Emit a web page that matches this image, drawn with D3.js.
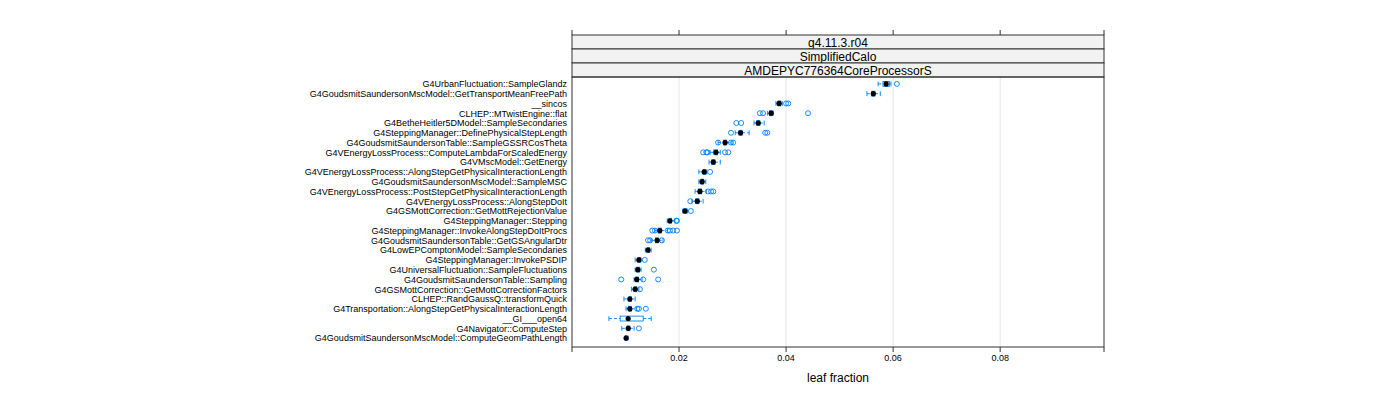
<!DOCTYPE html><html><head><meta charset="utf-8"><script src="https://cdn.jsdelivr.net/npm/d3@7"></script>
<style>body{margin:0;background:#fff}text{font-family:"Liberation Sans",Arial,sans-serif}</style></head><body><svg id="c" width="1400" height="400"></svg><script>
const categories=["G4UrbanFluctuation::SampleGlandz","G4GoudsmitSaundersonMscModel::GetTransportMeanFreePath","__sincos","CLHEP::MTwistEngine::flat","G4BetheHeitler5DModel::SampleSecondaries","G4SteppingManager::DefinePhysicalStepLength","G4GoudsmitSaundersonTable::SampleGSSRCosTheta","G4VEnergyLossProcess::ComputeLambdaForScaledEnergy","G4VMscModel::GetEnergy","G4VEnergyLossProcess::AlongStepGetPhysicalInteractionLength","G4GoudsmitSaundersonMscModel::SampleMSC","G4VEnergyLossProcess::PostStepGetPhysicalInteractionLength","G4VEnergyLossProcess::AlongStepDoIt","G4GSMottCorrection::GetMottRejectionValue","G4SteppingManager::Stepping","G4SteppingManager::InvokeAlongStepDoItProcs","G4GoudsmitSaundersonTable::GetGSAngularDtr","G4LowEPComptonModel::SampleSecondaries","G4SteppingManager::InvokePSDIP","G4UniversalFluctuation::SampleFluctuations","G4GoudsmitSaundersonTable::Sampling","G4GSMottCorrection::GetMottCorrectionFactors","CLHEP::RandGaussQ::transformQuick","G4Transportation::AlongStepGetPhysicalInteractionLength","__GI___open64","G4Navigator::ComputeStep","G4GoudsmitSaundersonMscModel::ComputeGeomPathLength"];
const medians=[0.0587,0.0563,0.0387,0.0372,0.0348,0.0315,0.0286,0.0269,0.0264,0.0247,0.0243,0.0239,0.0234,0.0211,0.0183,0.0164,0.0159,0.0142,0.0125,0.0123,0.0121,0.0118,0.0108,0.0108,0.0105,0.0105,0.0101];
const q1=[0.0581,0.0560,0.0385,0.0369,0.0345,0.0312,0.0283,0.0265,0.0261,0.0245,0.0241,0.0236,0.0231,0.0209,0.0181,0.0161,0.0156,0.0140,0.0123,0.0121,0.0119,0.0116,0.0106,0.0106,0.0090,0.0103,0.0100];
const q3=[0.0593,0.0566,0.0390,0.0375,0.0351,0.0318,0.0289,0.0272,0.0267,0.0250,0.0246,0.0242,0.0237,0.0214,0.0186,0.0167,0.0162,0.0145,0.0128,0.0126,0.0124,0.0121,0.0111,0.0111,0.0133,0.0108,0.0103];
const whiskLo=[0.0572,0.0551,0.0381,0.0365,0.0340,0.0305,0.0273,0.0258,0.0256,0.0237,0.0237,0.0230,0.0224,0.0207,0.0178,0.0155,0.0148,0.0137,0.0118,0.0118,0.0116,0.0111,0.0097,0.0101,0.0069,0.0093,0.0099],
whiskHi=[0.0596,0.0576,0.0393,0.0376,0.0359,0.0331,0.0299,0.0277,0.0277,0.0252,0.0250,0.0251,0.0245,0.0216,0.0192,0.0178,0.0170,0.0148,0.0129,0.0129,0.0131,0.0125,0.0118,0.0120,0.0148,0.0116,0.0105];
const outliers=[[0.0607],[],[0.0400,0.0404],[0.0351,0.0357,0.0441],[0.0307,0.0316],[0.0297,0.0361,0.0365],[0.0273,0.0297,0.0301],[0.0245,0.0251,0.0253,0.0286,0.0292],[],[0.0258],[],[0.0254,0.0260,0.0264],[0.0221],[0.0222],[0.0195,0.0196],[0.0150,0.0155,0.0179,0.0183,0.0189,0.0196],[0.0142,0.0146,0.0168],[],[0.0136],[0.0153],[0.0092,0.0133,0.0161],[0.0127],[],[0.0122,0.0125,0.0138],[],[0.0125],[]];
const strips=["g4.11.3.r04","SimplifiedCalo","AMDEPYC776364CoreProcessorS"];
const xTicks=[0.02,0.04,0.06,0.08];
const svg=d3.select("#c");
const L=572,R=1104,T=77,B=347;
const x=d3.scaleLinear().domain([0,0.0994]).range([L,R]);
const y=d3.scaleBand().domain(categories).range([T+2,B-4]);
const cy=d=>y(d)+y.bandwidth()/2;
const blue="#0080ff";
svg.selectAll(".g").data(xTicks).join("line").attr("x1",d=>x(d)).attr("x2",d=>x(d)).attr("y1",T).attr("y2",B).attr("stroke","#e6e6e6");
strips.forEach((s,i)=>{const y0=35+i*14;svg.append("rect").attr("x",L).attr("y",y0).attr("width",R-L).attr("height",14).attr("fill","#f2f2f2").attr("stroke","#333");svg.append("text").attr("x",(L+R)/2).attr("y",y0+11.5).attr("text-anchor","middle").attr("font-size",12).text(s);});
svg.append("rect").attr("x",L).attr("y",T).attr("width",R-L).attr("height",B-T).attr("fill","none").attr("stroke","#333");
const ax=[0,...xTicks,0.0994];
ax.forEach(v=>{svg.append("line").attr("x1",x(v)).attr("x2",x(v)).attr("y1",30).attr("y2",35).attr("stroke","#333");svg.append("line").attr("x1",x(v)).attr("x2",x(v)).attr("y1",B).attr("y2",B+5).attr("stroke","#333");});
svg.selectAll(".tl").data(xTicks).join("text").attr("x",d=>x(d)).attr("y",361).attr("text-anchor","middle").attr("font-size",9).text(d=>d.toFixed(2));
svg.append("text").attr("x",(L+R)/2).attr("y",382).attr("text-anchor","middle").attr("font-size",12).text("leaf fraction");
svg.selectAll(".yl").data(categories).join("text").attr("x",L-5).attr("y",d=>cy(d)+3.3).attr("text-anchor","end").attr("font-size",9).text(d=>d);
categories.forEach((c,i)=>{const yy=cy(c),h=y.bandwidth()*0.5;const g=svg.append("g").attr("stroke",blue).attr("fill","none").attr("stroke-width",0.9);
g.append("line").attr("x1",x(whiskLo[i])).attr("x2",x(q1[i])).attr("y1",yy).attr("y2",yy).attr("stroke-dasharray","3,2");
g.append("line").attr("x1",x(q3[i])).attr("x2",x(whiskHi[i])).attr("y1",yy).attr("y2",yy).attr("stroke-dasharray","3,2");
[whiskLo[i],whiskHi[i]].forEach(v=>g.append("line").attr("x1",x(v)).attr("x2",x(v)).attr("y1",yy-h/2).attr("y2",yy+h/2));
g.append("rect").attr("x",x(q1[i])).attr("y",yy-h/2).attr("width",x(q3[i])-x(q1[i])).attr("height",h);
outliers[i].forEach(v=>g.append("circle").attr("cx",x(v)).attr("cy",yy).attr("r",2.5));
svg.append("circle").attr("cx",x(medians[i])).attr("cy",yy).attr("r",2.6).attr("fill","#000");});
</script></body></html>
